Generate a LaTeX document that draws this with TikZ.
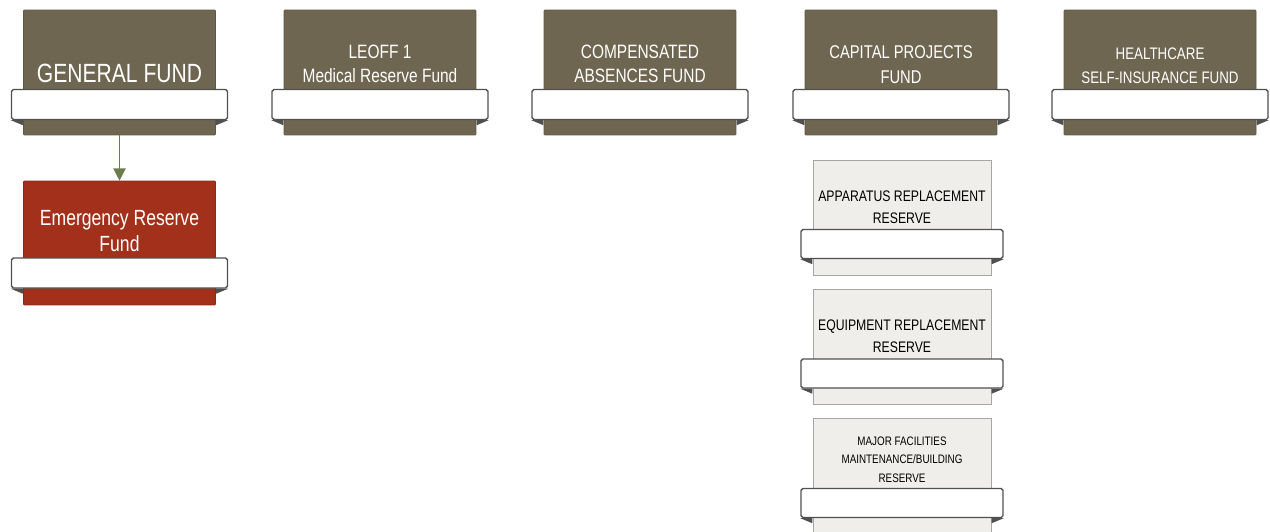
\documentclass[tikz,border=0pt]{standalone}
\usepackage{fontspec}
\setmainfont{Liberation Sans}[FakeStretch=0.8]
\usetikzlibrary{arrows.meta}

\definecolor{fundbrown}{HTML}{6F6651}
\definecolor{reservered}{HTML}{A3301A}
\definecolor{paleside}{HTML}{F0EEEA}
\definecolor{bandline}{HTML}{505050}
\definecolor{linkgreen}{HTML}{6B7D4C}

\tikzstyle{fund} = [fill=fundbrown, draw=fundbrown!85!black, minimum width=3.84cm, minimum height=2.5cm, inner sep=0pt, rounded corners=0.5pt]
\tikzstyle{emerg} = [fund, fill=reservered, draw=reservered!85!black, minimum height=2.48cm]
\tikzstyle{sub} = [fill=paleside, draw=gray!70, minimum width=3.56cm, minimum height=2.3cm, inner sep=0pt]
\tikzstyle{band} = [fill=white, draw=bandline, line width=0.8pt, rounded corners=1pt, minimum width=4.32cm, minimum height=0.6cm, inner sep=0pt]
\tikzstyle{subband} = [band, minimum width=4.04cm, minimum height=0.58cm]
\tikzstyle{fundtext} = [white, align=center, anchor=south, inner sep=1pt, yshift=2pt, font=\fontsize{11}{14}\selectfont]
\tikzstyle{subtext} = [black, align=center, anchor=south, inner sep=1pt, yshift=2pt, font=\fontsize{8.7}{12.5}\selectfont]
\tikzstyle{fold} = [fill=bandline]

\begin{document}
\begin{tikzpicture}[x=0.02cm, y=-0.02cm]
  \useasboundingbox (0,0) rectangle (1270,531);

  % top row of funds
  \node[fund] (gf) at (119.5,72.5) {};
  \node[fund] (leoff) at (380,72.5) {};
  \node[fund] (comp) at (640,72.5) {};
  \node[fund] (cap) at (901,72.5) {};
  \node[fund] (hc) at (1160,72.5) {};

  % reserve under the general fund
  \node[emerg] (er) at (119.5,243) {};

  % reserves under capital projects
  \node[sub] (appar) at (902,217.5) {};
  \node[sub] (equip) at (902,346.5) {};
  \node[sub] (major) at (902,475.5) {};

  % white bands
  \node[band] (gfband) at (119.5,104.5) {};
  \node[band] (leoffband) at (380,104.5) {};
  \node[band] (compband) at (640,104.5) {};
  \node[band] (capband) at (901,104.5) {};
  \node[band] (hcband) at (1160,104.5) {};
  \node[band] (erband) at (119.5,273) {};
  \node[subband] (apparband) at (902,244) {};
  \node[subband] (equipband) at (902,373.5) {};
  \node[subband] (majorband) at (902,503) {};

  % folded corners of the bands
  \foreach \b in {gfband,leoffband,compband,capband,hcband,erband,apparband,equipband,majorband} {
    \fill[fold] (\b.south west) -- ++(12,0) -- ++(0,5) -- cycle;
    \fill[fold] (\b.south east) -- ++(-12,0) -- ++(0,5) -- cycle;
  }

  % titles
  \node[fundtext, font=\fontsize{15}{18}\selectfont] (gftext) at (gfband.north) {GENERAL FUND};
  \node[fundtext] (leofftext) at (leoffband.north) {LEOFF 1\\Medical Reserve Fund};
  \node[fundtext] (comptext) at (compband.north) {COMPENSATED\\ABSENCES FUND};
  \node[fundtext, font=\fontsize{10.5}{14}\selectfont] (captext) at (capband.north) {CAPITAL PROJECTS\\FUND};
  \node[fundtext, font=\fontsize{9.5}{13.5}\selectfont] (hctext) at (hcband.north) {HEALTHCARE\\SELF-INSURANCE FUND};
  \node[fundtext, font=\fontsize{12.5}{15}\selectfont] (ertext) at (erband.north) {Emergency Reserve\\Fund};
  \node[subtext] (appartext) at (apparband.north) {APPARATUS REPLACEMENT\\RESERVE};
  \node[subtext] (equiptext) at (equipband.north) {EQUIPMENT REPLACEMENT\\RESERVE};
  \node[subtext, font=\fontsize{7}{10.5}\selectfont] (majortext) at (majorband.north) {MAJOR FACILITIES\\MAINTENANCE/BUILDING\\RESERVE};

  % link
  \draw[linkgreen, line width=0.8pt, -{Triangle[length=7pt, width=7pt]}] (gf.south) -- (er.north);
\end{tikzpicture}
\end{document}
